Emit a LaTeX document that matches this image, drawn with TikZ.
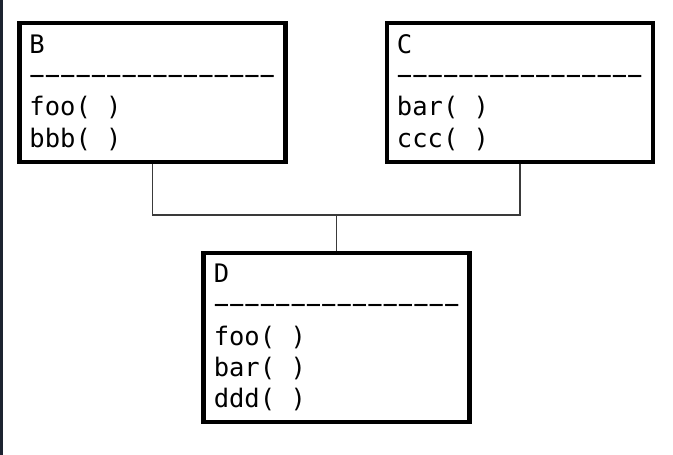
\documentclass[tikz,border=0pt]{standalone}
\usepackage{fontspec}
\setmonofont{DejaVu Sans Mono}
\usetikzlibrary{calc}

\definecolor{strip}{HTML}{1C2330}
\definecolor{wire}{HTML}{3A3A3A}

\tikzset{
  classbox/.style={draw, rectangle, line width=4.5pt, inner xsep=8.5pt, inner ysep=0pt,
    align=left, minimum width=266pt, font=\ttfamily\fontsize{25.5}{31.4}\selectfont},
  wire/.style={draw=wire, line width=1.4pt}
}

\begin{document}
\begin{tikzpicture}[x=1pt,y=-1pt]
            \fill[white] (0,0) rectangle (673,455);
            \fill[strip] (0,0) rectangle (3,455);
            \useasboundingbox (0,0) rectangle (673,455);

            \node[classbox, minimum height=139pt] (B) at (152.3,92.5) {B\\−−−−−−−−−−−−−−−−\\foo( )\\bbb( )};
            \node[classbox, minimum height=139pt] (C) at (519.8,92.5) {C\\−−−−−−−−−−−−−−−−\\bar( )\\ccc( )};
            \node[classbox, minimum height=169pt] (D) at (336.6,337.5) {D\\−−−−−−−−−−−−−−−−\\foo( )\\bar( )\\ddd( )};

            \coordinate (joint) at (336.6,215);
            \draw[wire] (B.south) |- (joint) -| (C.south);
            \draw[wire] (joint) -- (D.north);
        \end{tikzpicture}
\end{document}
